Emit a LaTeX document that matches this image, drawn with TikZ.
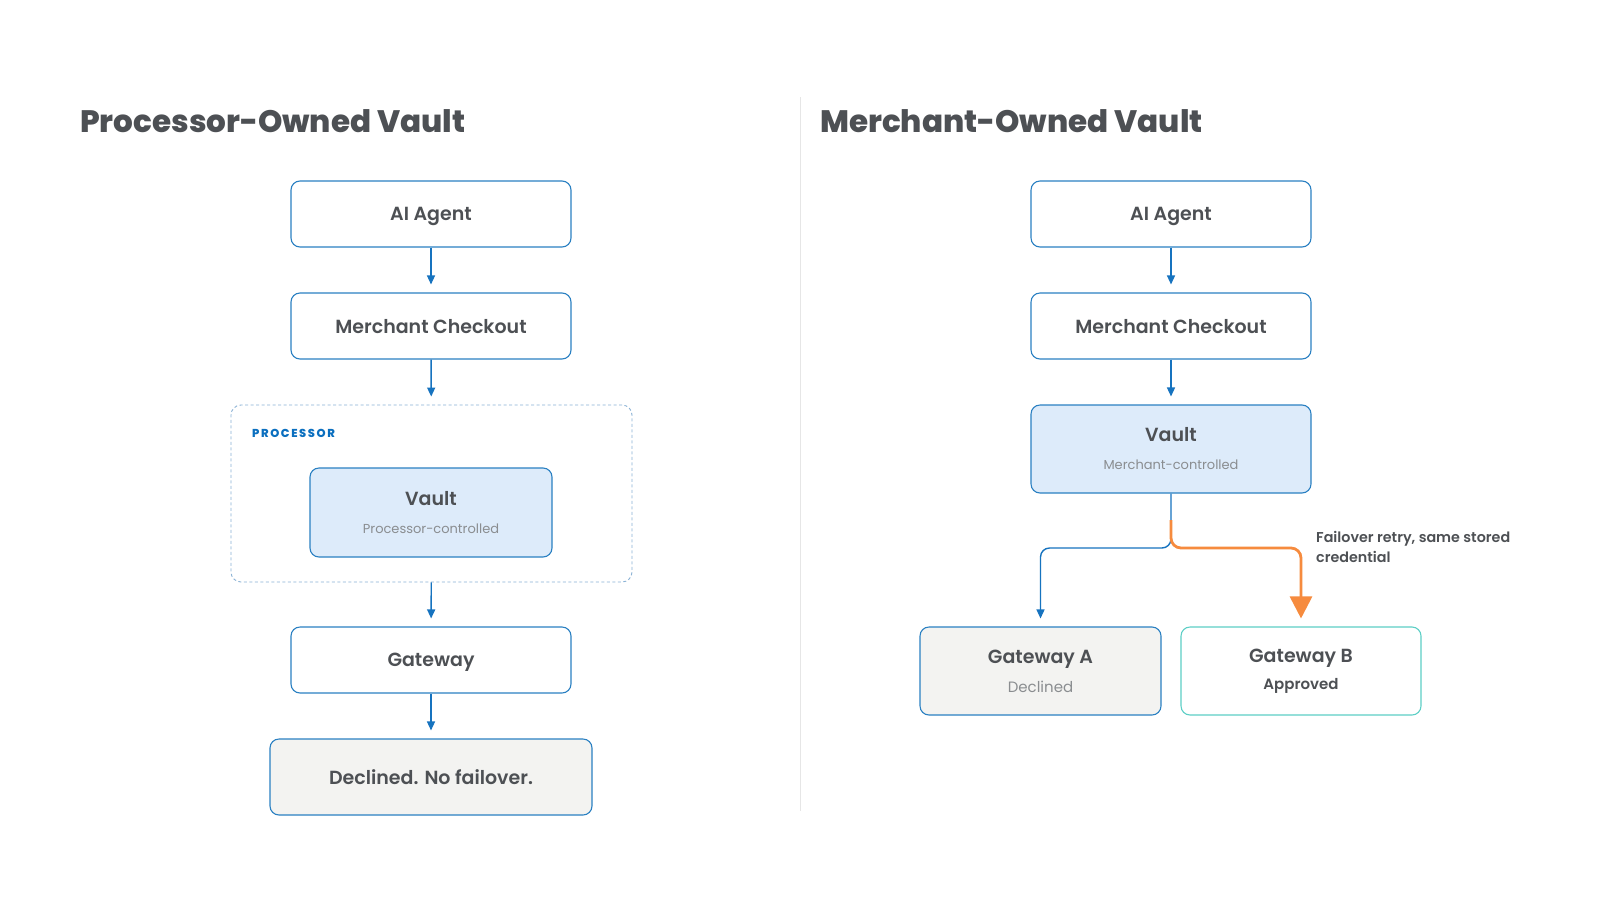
\documentclass[tikz,border=0pt]{standalone}
\usepackage{fontspec}
\setmainfont{Poppins}
\newfontfamily\semifont{Poppins SemiBold}
\newfontfamily\heavyfont{Poppins ExtraBold}
\newfontfamily\tagfont{Poppins ExtraBold}[LetterSpace=14]
\usetikzlibrary{positioning,arrows.meta}
\definecolor{inkgray}{HTML}{4D5054}
\definecolor{subgray}{HTML}{8A8D90}
\definecolor{boxblue}{HTML}{2A80C2}
\definecolor{flowblue}{HTML}{1673BF}
\definecolor{vaultfill}{HTML}{DDEBFA}
\definecolor{declfill}{HTML}{F3F3F1}
\definecolor{tealline}{HTML}{5DCFC6}
\definecolor{failorange}{HTML}{F68B3E}
\definecolor{dashblue}{HTML}{8AB2D5}
\definecolor{rulegray}{HTML}{E6E6E6}
\definecolor{proclabel}{HTML}{0B6FBF}
\newcommand{\subline}[1]{\\[7pt]{\rmfamily\fontsize{13}{16}\selectfont\color{subgray}#1}}

\begin{document}
\begin{tikzpicture}[x=1pt,y=-1pt]
\tikzstyle{box}=[draw=boxblue,line width=1.1pt,rounded corners=9pt,fill=white,minimum width=280pt,minimum height=66pt,inner sep=0pt,align=center,text=inkgray,font=\semifont\fontsize{19}{23}\selectfont]
\tikzstyle{onebox}=[box,text depth=0pt]
\tikzstyle{vaultbox}=[box,fill=vaultfill,minimum height=89pt]
\tikzstyle{endbox}=[box,fill=declfill]
\tikzstyle{flow}=[draw=flowblue,line width=1.4pt,-{Triangle[width=8pt,length=9pt]},shorten >=8pt]
\tikzstyle{failflow}=[draw=failorange,line width=2.8pt,-{Triangle[width=22pt,length=22pt]},shorten >=8pt,rounded corners=10pt]
\tikzstyle{title}=[anchor=base west,inner sep=0pt,text=inkgray,font=\heavyfont\fontsize{31}{38}\selectfont]
\useasboundingbox[fill=white] (0,0) rectangle (1600,900);
\draw[rulegray,line width=0.8pt] (800,97) -- (800,811);
\node[title] (ltitle) at (80,132) {Processor-Owned Vault};
\node[title] (rtitle) at (820,132) {Merchant-Owned Vault};
\node[draw=dashblue,dash pattern=on 3pt off 2.5pt,line width=0.9pt,rounded corners=10pt,minimum width=401pt,minimum height=177pt,inner sep=0pt] (proc) at (431.5,493.5) {};
\node[anchor=base west,inner sep=0pt,text=proclabel,font=\tagfont\fontsize{11.5}{14}\selectfont] (plabel) at (252,437) {PROCESSOR};
\node[onebox] (lagent) at (431,214) {AI Agent};
\node[onebox] (lcheck) at (431,326) {Merchant Checkout};
\node[vaultbox,minimum width=242pt] (lvault) at (431,512.5) {\raisebox{-2pt}{Vault}\subline{Processor-controlled}};
\node[onebox] (lgate) at (431,660) {Gateway};
\node[endbox,text depth=0pt,minimum width=322pt,minimum height=76pt] (ldecl) at (431,777) {Declined. No failover.};
\draw[flow] (lagent) -- (lcheck);
\draw[flow] (lcheck) -- (proc);
\draw[flow] (proc) -- (lgate);
\draw[flow] (lgate) -- (ldecl);
\node[onebox] (ragent) at (1171,214) {AI Agent};
\node[onebox] (rcheck) at (1171,326) {Merchant Checkout};
\node[vaultbox,minimum height=88pt] (rvault) at (1171,449) {\raisebox{-2pt}{Vault}\subline{Merchant-controlled}};
\node[endbox,minimum width=241pt,minimum height=88pt] (gwa) at (1040.5,671) {Gateway A\\[6pt]{\rmfamily\fontsize{15}{17}\selectfont\color{subgray}Declined}};
\node[box,draw=tealline,minimum width=240pt,minimum height=88pt] (gwb) at (1301,671) {\raisebox{-2pt}{Gateway B}\\[6pt]{\fontsize{15}{17}\selectfont Approved}};
\draw[flow] (ragent) -- (rcheck);
\draw[flow] (rcheck) -- (rvault);
\coordinate (split) at (1171,548);
\coordinate (fork) at (1171,520);
\coordinate (turnb) at (gwb.north |- split);
\draw[flow,rounded corners=9pt] (rvault.south) -- (split) -| (gwa.north);
\draw[failflow] (fork) -- (split) -- (turnb) -- (gwb.north);
\node[anchor=north west,inner sep=0pt,align=left,text=inkgray,font=\semifont\fontsize{14.3}{20.5}\selectfont] (faillabel) at (1316,531) {Failover retry, same stored\\credential};
\end{tikzpicture}
\end{document}
